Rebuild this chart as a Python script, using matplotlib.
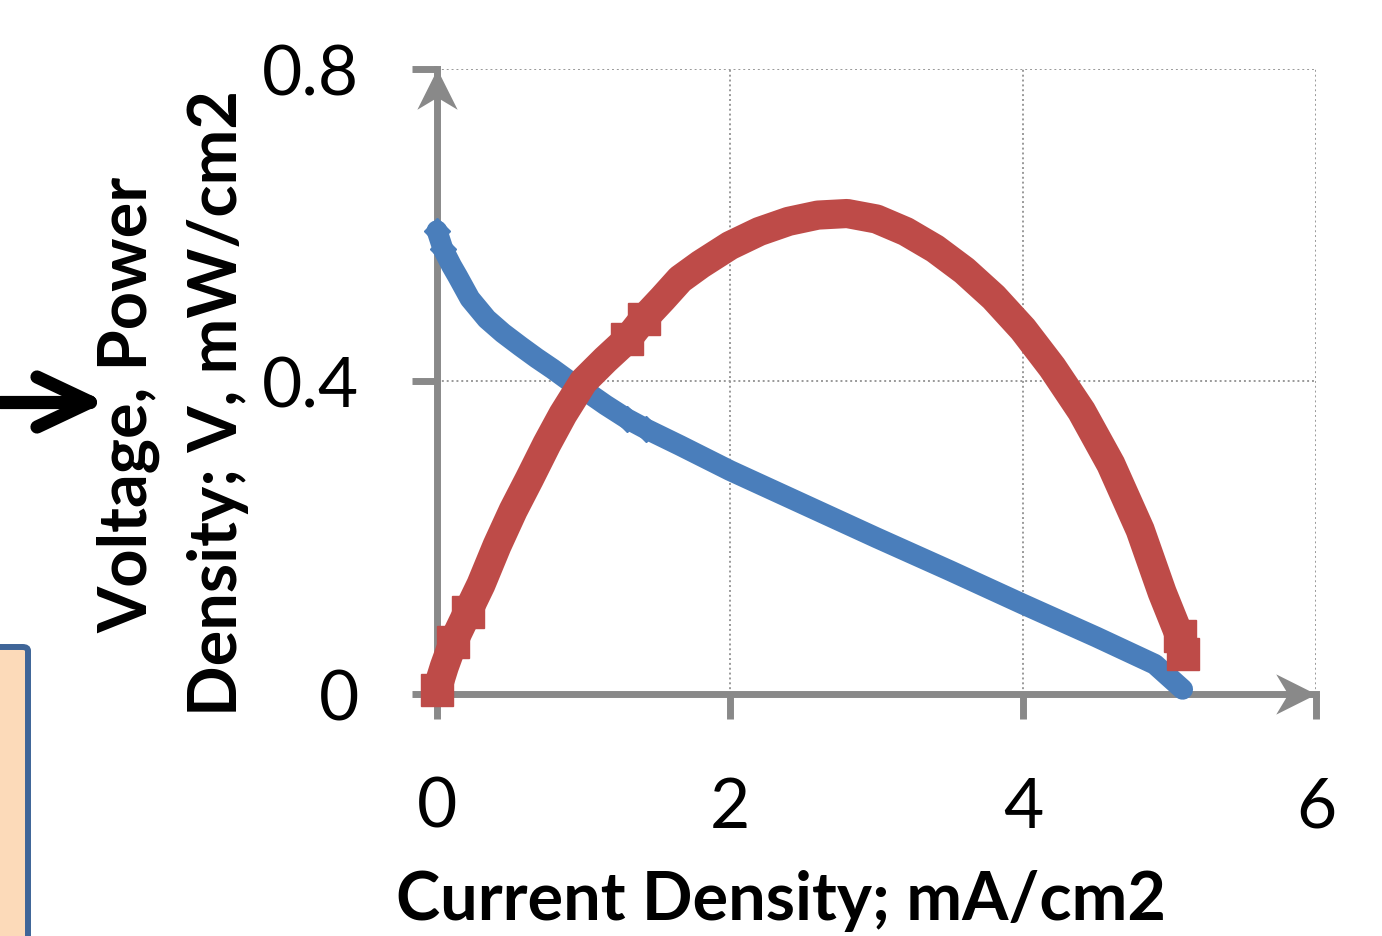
import numpy as np
import matplotlib.pyplot as plt
from matplotlib.path import Path
from matplotlib.lines import Line2D
from matplotlib.patches import FancyBboxPatch
from matplotlib.transforms import Affine2D

plt.rcParams['font.family'] = ['Lato', 'DejaVu Sans']

# current density, mA/cm2 -> voltage, V
volt_i = [0.0, 0.04, 0.10, 0.14, 0.225, 0.34, 0.45, 0.57, 0.68, 0.79, 0.90,
          1.02, 1.15, 1.30, 1.43, 1.66, 2.0, 2.5, 3.0, 3.5, 4.0, 4.5, 4.9, 5.09]
volt_v = [0.593, 0.570, 0.548, 0.535, 0.506, 0.480, 0.462, 0.445, 0.430, 0.416,
          0.401, 0.387, 0.370, 0.352, 0.339, 0.318, 0.286, 0.243, 0.200, 0.158,
          0.115, 0.073, 0.038, 0.006]

# current density, mA/cm2 -> power density, mW/cm2
pow_i = [0.0, 0.05, 0.11, 0.21, 0.30, 0.41, 0.52, 0.63, 0.75, 0.86, 1.0, 1.15,
         1.30, 1.41, 1.54, 1.66, 1.80, 2.0, 2.2, 2.4, 2.6, 2.8, 3.0, 3.2, 3.4,
         3.6, 3.8, 4.0, 4.2, 4.4, 4.6, 4.8, 4.95, 5.07, 5.09]
pow_p = [0.005, 0.035, 0.066, 0.105, 0.14, 0.19, 0.235, 0.275, 0.32, 0.358,
         0.400, 0.428, 0.454, 0.48, 0.506, 0.531, 0.55, 0.574, 0.592, 0.605,
         0.613, 0.615, 0.608, 0.592, 0.570, 0.542, 0.508, 0.467, 0.418, 0.362,
         0.294, 0.210, 0.13, 0.074, 0.051]

xticks = [0, 2, 4, 6]
yticks = [0, 0.4, 0.8]
ytick_labels = ['0', '0.4', '0.8']

blue = '#4A7EBB'
red = '#BE4B48'
axis_grey = '#898989'

fig = plt.figure(figsize=(13.82, 9.37), dpi=100)
ax = fig.add_axes([0.3162, 0.2583, 0.6360, 0.6670])

ax.set_xlim(0, 6)
ax.set_ylim(0, 0.8)
ax.set_xticks(xticks)
ax.set_yticks(yticks)
ax.set_yticklabels(ytick_labels)

ax.grid(True, color='#999999', linestyle=(0, (1, 1.5)), linewidth=1.4)
ax.set_axisbelow(True)

for s in ['top', 'right']:
    ax.spines[s].set_visible(False)
for s in ['left', 'bottom']:
    ax.spines[s].set_color(axis_grey)
    ax.spines[s].set_linewidth(5)

ax.tick_params(axis='both', direction='out', length=18, width=5,
               color=axis_grey, labelsize=50, labelcolor='black')
ax.tick_params(axis='y', pad=38)
ax.tick_params(axis='x', pad=41)

# the series are dense chains of markers; a few stand out where points are sparse
ax.plot(volt_i, volt_v, color=blue, lw=15, marker='D', ms=13,
        markevery=[0, 1, 13, 14], solid_joinstyle='round',
        solid_capstyle='round', zorder=4, clip_on=False)
ax.plot(pow_i, pow_p, color=red, lw=21, marker='s', ms=23,
        markevery=[0, 2, 3, 12, 13, 33, 34], solid_joinstyle='round',
        solid_capstyle='butt', zorder=5, clip_on=False)

# arrow heads on the axes
head = Path([(0, 0), (0.5, -1), (0, -0.7), (-0.5, -1), (0, 0)],
            [Path.MOVETO, Path.LINETO, Path.LINETO, Path.LINETO, Path.CLOSEPOLY])
head_right = head.transformed(Affine2D().rotate_deg(-90))
ax.plot([0], [1], marker=head, ms=58, color=axis_grey, mew=0,
        transform=ax.transAxes, clip_on=False, zorder=3)
ax.plot([1], [0], marker=head_right, ms=58, color=axis_grey, mew=0,
        transform=ax.transAxes, clip_on=False, zorder=3)

ax.set_xlabel('Current Density; mA/cm2', fontsize=48, fontweight='bold')
ax.xaxis.set_label_coords((781 - 437) / 879, -0.33)
ax.xaxis.label.set_va('center')

fig.text(147 / 1382, 1 - 405 / 937, 'Voltage, Power', rotation=90,
         rotation_mode='anchor', ha='center', va='baseline',
         fontsize=48, fontweight='bold')
fig.text(237 / 1382, 1 - 403 / 937, 'Density; V, mW/cm2', rotation=90,
         rotation_mode='anchor', ha='center', va='baseline',
         fontsize=48, fontweight='bold')

# black arrow on the left edge
W, H = 1382, 937
tip = (90 / W, 1 - 403 / H)
for start in [(0, 1 - 403 / H), (37 / W, 1 - 378 / H), (37 / W, 1 - 428 / H)]:
    fig.add_artist(Line2D([start[0], tip[0]], [start[1], tip[1]], color='black',
                          lw=9.5, solid_capstyle='round'))

# peach box at the bottom left
box = FancyBboxPatch((-60 / W, -40 / H), 88 / W, (937 - 648 + 40) / H,
                     boxstyle='round,pad=0,rounding_size=0.004',
                     transform=fig.transFigure, facecolor='#FCDAB9',
                     edgecolor='#3F6598', lw=4.3)
fig.add_artist(box)

fig.savefig('out.png', dpi=100)
